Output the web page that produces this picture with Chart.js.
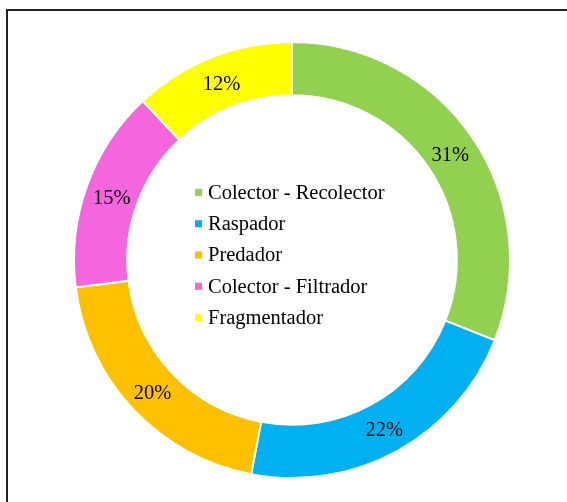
<!DOCTYPE html>
<html>
<head>
<meta charset="utf-8">
<script src="https://cdn.jsdelivr.net/npm/chart.js@4/dist/chart.umd.min.js"></script>
<style>
  html, body { margin: 0; padding: 0; background: #fff; overflow: hidden; }
  #marco {
    position: absolute; left: 6px; top: 9px; width: 620px; height: 560px;
    border: 2px solid #222; box-sizing: border-box;
  }
  #caja { position: absolute; left: 0; top: 0; width: 567px; height: 502px; }
</style>
</head>
<body>
<div id="marco"></div>
<div id="caja"><canvas id="grafico" width="567" height="502"></canvas></div>
<script>
// Grupos funcionales y su porcentaje
const grupos = ["Colector - Recolector", "Raspador", "Predador", "Colector - Filtrador", "Fragmentador"];
const porcentajes = [31, 22, 20, 15, 12];
const colores = ["#92D050", "#00B0F0", "#FFC000", "#F566DE", "#FFFF00"];

const fuente = "'Liberation Serif', 'Times New Roman', serif";

// Etiquetas de porcentaje sobre cada sector
const etiquetasPlugin = {
  id: "etiquetas",
  afterDatasetsDraw(chart) {
    const ctx = chart.ctx;
    const meta = chart.getDatasetMeta(0);
    ctx.save();
    ctx.font = "20.5px " + fuente;
    ctx.fillStyle = "#000";
    ctx.textAlign = "center";
    ctx.textBaseline = "middle";
    meta.data.forEach((arco, i) => {
      const p = arco.getCenterPoint();
      ctx.fillText(porcentajes[i] + "%", p.x, p.y + 3);
    });
    ctx.restore();
  }
};

// Leyenda dentro del hueco del anillo
const leyendaPlugin = {
  id: "leyendaCentro",
  afterDraw(chart) {
    const ctx = chart.ctx;
    const arco = chart.getDatasetMeta(0).data[0];
    const cx = arco.x, cy = arco.y;
    const paso = 31.3;
    const y0 = cy - paso * (grupos.length - 1) / 2 - 5;
    const xMarca = cx - 97;
    ctx.save();
    ctx.font = "20.5px " + fuente;
    ctx.textBaseline = "middle";
    ctx.textAlign = "left";
    grupos.forEach((g, i) => {
      const y = y0 + i * paso;
      ctx.fillStyle = colores[i];
      ctx.fillRect(xMarca, y - 3.5, 7, 7);
      ctx.fillStyle = "#000";
      ctx.fillText(g, xMarca + 13, y + 1);
    });
    ctx.restore();
  }
};

new Chart(document.getElementById("grafico"), {
  type: "doughnut",
  data: {
    labels: grupos,
    datasets: [{
      data: porcentajes,
      backgroundColor: colores,
      borderColor: "#fff",
      borderWidth: 2
    }]
  },
  options: {
    responsive: false,
    animation: false,
    cutout: "75.6%",
    layout: { padding: { left: 73, right: 56, top: 41, bottom: 23 } },
    plugins: {
      legend: { display: false },
      tooltip: { enabled: false }
    }
  },
  plugins: [etiquetasPlugin, leyendaPlugin]
});
</script>
</body>
</html>
